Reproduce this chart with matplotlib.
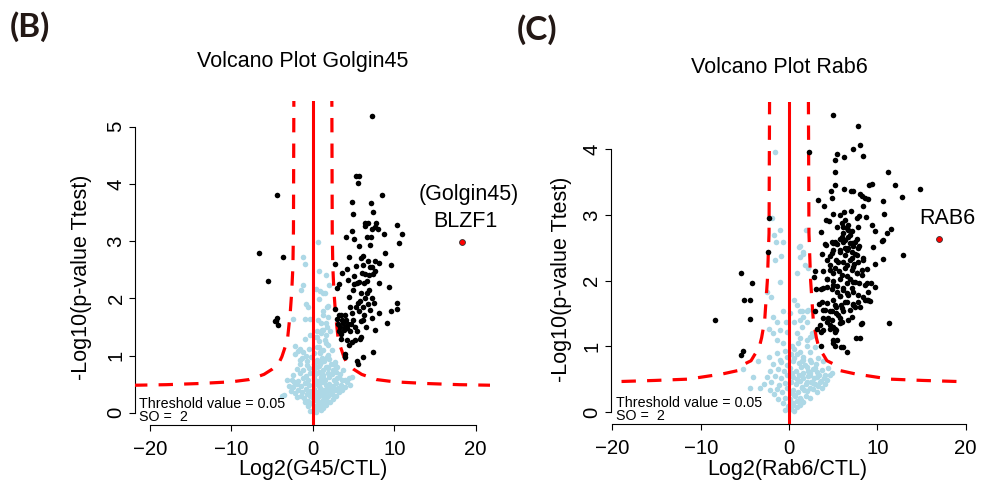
import matplotlib
matplotlib.use("Agg")
import matplotlib.pyplot as plt

plt.rcParams['font.family'] = ['Liberation Sans', 'DejaVu Sans']

W, H = 985, 488

# ---- Golgin45 panel -------------------------------------------------------
# significant proteins (black)
g45_sig = [
    (7.24, 5.18), (5.3, 4.14), (5.7, 4.14), (5.6, 4.02), (8.43, 3.81), (4.83, 3.68),
    (7.2, 3.66), (4.9, 3.48), (7.4, 3.51), (6.4, 3.32), (6.8, 3.32), (7.7, 3.32),
    (6.4, 3.27), (7.6, 3.24), (8.0, 3.21), (7.3, 3.21), (10.3, 3.29), (10.9, 3.13),
    (8.7, 3.12), (4.83, 3.18), (4.1, 3.07), (5.07, 3.04), (6.7, 3.07), (7.2, 3.08),
    (-4.38, 3.81), (-6.67, 2.79), (-3.68, 2.72), (-5.52, 2.31), (-4.4, 1.66),
    (-4.55, 1.61), (-4.25, 1.53), (-4.7, 1.6),
    (5.72, 2.91), (7.03, 2.93), (10.63, 2.96), (6.13, 2.74), (8.91, 2.79), (4.49, 2.73),
    (5.88, 2.70), (6.79, 2.65), (7.6, 2.65), (8.1, 2.62), (5.31, 2.56), (6.21, 2.58),
    (9.57, 2.58), (7.28, 2.54), (2.74, 2.6), (4.25, 2.51), (7.69, 2.47), (3.6, 2.45),
    (5.07, 2.39), (6.46, 2.42), (6.87, 2.41), (7.4, 2.42), (4.33, 2.32), (5.4, 2.27),
    (5.72, 2.29), (8.18, 2.27), (3.27, 2.25), (6.3, 2.27), (6.95, 2.15), (9.32, 2.19),
    (3.02, 2.18), (4.99, 2.14), (6.7, 2.1), (5.88, 2.09), (4.49, 2.02), (7.28, 2.0),
    (5.8, 1.96), (5.56, 1.91), (7.52, 1.91), (10.39, 1.91), (2.7, 1.82), (4.58, 1.85),
    (6.21, 1.85), (7.03, 1.8), (9.65, 1.77), (10.39, 1.82), (3.43, 1.71), (3.92, 1.71),
    (4.82, 1.74), (5.72, 1.77), (8.1, 1.74), (2.94, 1.64), (4.09, 1.62), (4.99, 1.62),
    (6.13, 1.62), (7.28, 1.65), (9.16, 1.57), (3.68, 1.57), (3.35, 1.49), (4.25, 1.48),
    (4.58, 1.42), (6.54, 1.49), (7.69, 1.45), (3.27, 1.42), (5.48, 1.43), (3.43, 1.28),
    (4.17, 1.27), (4.82, 1.24), (4.41, 1.18), (5.23, 1.27), (5.8, 1.29), (5.97, 1.33),
    (7.36, 1.06), (4.0, 1.03), (3.92, 0.97), (6.13, 0.97), (5.48, 0.91), (5.56, 0.85),
    (3.1, 1.55), (3.6, 1.62), (3.8, 1.45), (4.3, 1.55), (3.5, 1.38), (4.0, 1.5),
    (3.2, 1.7), (4.7, 1.55), (5.2, 1.5), (5.9, 1.6), (6.3, 1.7), (6.8, 1.9), (6.4, 2.0),
    (5.3, 1.85), (5.0, 2.25), (6.6, 2.3), (7.0, 2.55), (6.0, 2.45),
]

# non significant proteins (light blue)
g45_ns = [
    (0.65, 2.98), (-1.23, 2.72), (-0.98, 2.6), (1.63, 2.4), (0.74, 2.48), (1.96, 2.23),
    (-1.23, 2.23), (-1.47, 2.15), (1.3, 2.1), (0.33, 2.16), (0.74, 1.99), (-0.8, 1.9),
    (-0.65, 1.85), (1.8, 1.87), (1.24, 1.71), (-2.38, 1.64), (-0.98, 1.64), (-0.33, 1.63),
    (0.98, 1.57), (1.7, 1.5), (0.49, 1.43), (1.06, 1.4), (1.6, 1.36), (1.6, 1.22),
    (0.33, 1.33), (-2.2, 1.17), (-1.55, 1.11), (-1.15, 1.07), (0.49, 1.15), (-2.2, 1.03),
    (-0.9, 0.99), (0.9, 1.07), (-1.6, 0.93), (-0.74, 0.9), (1.7, 0.98), (-3.19, 0.57),
    (-2.29, 0.54), (-3.6, 0.31), (-3.84, 0.29),
    (0.9, 2.12), (1.51, 2.09), (1.71, 1.85), (1.3, 1.77), (1.92, 1.68), (0.69, 1.62),
    (1.63, 1.56), (1.1, 1.45), (2.12, 1.42), (0.49, 1.33), (1.51, 1.27), (2.33, 1.1),
    (0.9, 1.04), (1.92, 1.01), (2.74, 0.89), (3.76, 0.75), (3.15, 0.63), (3.96, 0.57),
    (4.78, 0.63), (1.71, 0.8), (0.49, 0.8),
    (-0.3, 0.03), (0.1, 0.06), (0.4, 0.02), (0.7, 0.08), (1.0, 0.05), (1.3, 0.09),
    (0.2, 0.12), (0.9, 0.13), (0.6, 0.16), (-0.6, 0.11), (1.6, 0.14),
    (-1.0, 0.18), (-0.6, 0.21), (-0.2, 0.17), (0.3, 0.22), (0.8, 0.19), (1.2, 0.23),
    (1.7, 0.2), (2.1, 0.18), (2.5, 0.24), (0.0, 0.26), (1.5, 0.28),
    (-2.0, 0.27), (-1.5, 0.3), (-1.1, 0.26), (-0.7, 0.32), (-0.3, 0.29), (0.2, 0.33),
    (0.6, 0.27), (1.0, 0.31), (1.4, 0.35), (1.8, 0.3), (2.3, 0.33), (2.8, 0.29), (3.2, 0.36),
    (-2.7, 0.38), (-2.2, 0.35), (-1.8, 0.4), (-1.3, 0.37), (-0.9, 0.42), (-0.4, 0.38),
    (0.1, 0.41), (0.5, 0.37), (0.9, 0.43), (1.3, 0.4), (1.8, 0.38), (2.2, 0.42),
    (2.7, 0.39), (3.1, 0.43), (3.6, 0.4), (4.0, 0.45),
    (-2.9, 0.47), (-2.4, 0.45), (-1.9, 0.5), (-1.4, 0.46), (-1.0, 0.52), (-0.5, 0.48),
    (0.3, 0.5), (0.7, 0.46), (1.1, 0.53), (1.6, 0.48), (2.0, 0.51), (2.5, 0.47),
    (2.9, 0.52), (3.4, 0.49), (4.2, 0.53), (4.6, 0.48),
    (-2.6, 0.58), (-1.8, 0.56), (-1.2, 0.6), (-0.6, 0.57), (0.2, 0.61), (0.6, 0.56),
    (1.0, 0.63), (1.5, 0.58), (2.0, 0.62), (2.6, 0.57), (3.0, 0.61), (3.6, 0.58), (4.4, 0.6),
    (-2.4, 0.66), (-1.6, 0.7), (-0.9, 0.65), (-0.3, 0.69), (0.3, 0.67), (0.8, 0.72),
    (1.3, 0.66), (1.8, 0.7), (2.4, 0.67), (2.9, 0.71), (3.3, 0.68),
    (-2.0, 0.77), (-1.2, 0.74), (-0.5, 0.79), (0.2, 0.76), (0.7, 0.81), (1.2, 0.75),
    (1.9, 0.78), (2.5, 0.74), (3.0, 0.8),
    (-1.6, 0.86), (-0.7, 0.84), (0.3, 0.88), (0.9, 0.85), (1.4, 0.9), (2.2, 0.86), (2.7, 0.83),
    (-1.3, 0.95), (-0.2, 0.97), (0.5, 0.93), (1.1, 0.96), (2.0, 0.94),
    (-1.8, 1.08), (-0.5, 1.12), (0.2, 1.05), (0.8, 1.15), (1.3, 1.1), (1.9, 1.18),
    (-1.0, 1.28), (-0.3, 1.35), (0.7, 1.25), (1.2, 1.45),
    (0.4, 0.09), (1.1, 0.15), (0.5, 0.2), (1.4, 0.26), (0.8, 0.36), (1.7, 0.44),
    (0.4, 0.55), (1.2, 0.6), (0.5, 0.7), (1.6, 0.8), (0.1, 0.85), (1.0, 0.88),
]

g45_hit = (18.36, 2.98)

# threshold curve (|log2 ratio|, -log10 p)
g45_curve_x = [2.33, 2.38, 2.45, 2.6, 2.78, 3.1, 3.4, 3.8, 4.2, 5.0, 6.0, 7.8, 10.0, 14.0, 18.0, 22.0, 24.0]
g45_curve_y = [5.6, 3.2, 2.55, 2.1, 1.74, 1.3, 1.15, 0.98, 0.86, 0.76, 0.67, 0.58, 0.54, 0.51, 0.49, 0.48, 0.47]

# ---- Rab6 panel -----------------------------------------------------------
rab6_sig = [
    (5.02, 4.52), (7.78, 4.36), (2.23, 3.95), (7.25, 4.0), (8.0, 4.06), (8.34, 3.9),
    (5.44, 3.92), (6.19, 3.88), (5.17, 3.83), (5.21, 3.65), (11.21, 3.65), (5.21, 3.46),
    (6.19, 3.4), (7.0, 3.37), (7.3, 3.37), (9.1, 3.46), (9.36, 3.47), (12.04, 3.45),
    (14.87, 3.39), (4.72, 3.36), (4.91, 3.26), (8.0, 3.32), (8.27, 3.29), (8.57, 3.26),
    (8.95, 3.24), (3.28, 3.23), (3.96, 3.14), (10.68, 3.21), (12.76, 3.27), (8.38, 3.14),
    (4.94, 3.02), (5.77, 3.0), (6.27, 3.05), (7.02, 3.06), (10.8, 3.02), (4.22, 2.92),
    (4.53, 2.9), (7.97, 2.98), (8.76, 2.97), (3.66, 2.74), (9.4, 2.85), (9.78, 2.75),
    (11.5, 2.78), (11.1, 2.72), (10.7, 2.62), (9.47, 2.51), (4.15, 2.54),
    (12.87, 2.39), (11.32, 1.35), (9.77, 2.25), (10.6, 2.33), (9.74, 1.9), (8.8, 1.97),
    (8.8, 1.7), (8.19, 1.34), (7.55, 1.13), (8.04, 1.13), (6.53, 0.92), (5.85, 0.99),
    (5.0, 1.1), (9.17, 1.69),
    (-5.43, 2.11), (-4.19, 1.96), (-5.1, 1.71), (-4.4, 1.71), (-4.45, 1.42), (-8.34, 1.4),
    (-5.47, 0.86), (-5.17, 0.93), (-2.26, 2.96), (-2.42, 2.44),
    (6.34, 2.92), (5.96, 2.87), (6.72, 2.85), (5.4, 2.82), (6.53, 2.8), (7.1, 2.75),
    (6.15, 2.72), (6.72, 2.67), (5.78, 2.64), (5.02, 2.57), (6.91, 2.57), (7.47, 2.59),
    (7.85, 2.82), (7.66, 2.95), (5.21, 2.57), (6.34, 2.49),
    (4.08, 2.55), (4.83, 2.58), (5.40, 2.56), (6.15, 2.59), (7.29, 2.53), (7.97, 2.53),
    (5.02, 2.47), (5.78, 2.44), (6.53, 2.47), (7.1, 2.43), (7.66, 2.39), (8.42, 2.31),
    (10.5, 2.6), (3.74, 2.41), (4.64, 2.37), (5.32, 2.32), (6.15, 2.29), (6.91, 2.31),
    (7.4, 2.26), (3.89, 2.14), (4.64, 2.16), (5.02, 2.11), (5.7, 2.15), (6.34, 2.19),
    (7.1, 2.16), (7.66, 2.11), (8.23, 2.09), (8.8, 2.17), (2.95, 2.14), (2.83, 2.06),
    (4.27, 2.03), (4.95, 2.0), (5.78, 2.02), (6.53, 2.07), (7.29, 1.98), (7.97, 1.96),
    (8.61, 1.93), (9.25, 1.96), (3.06, 1.87), (3.59, 1.87), (4.27, 1.91), (4.87, 1.87),
    (5.47, 1.92), (6.08, 1.86), (6.61, 1.81), (7.29, 1.83), (7.85, 1.78), (8.34, 1.75),
    (8.98, 1.7), (5.78, 1.76), (5.02, 1.70), (4.27, 1.66), (3.36, 1.65), (6.53, 1.68),
    (7.29, 1.64), (8.04, 1.6), (5.93, 1.63), (5.32, 1.6), (2.95, 1.53), (3.89, 1.55),
    (4.64, 1.53), (5.32, 1.51), (6.08, 1.54), (6.91, 1.55), (7.47, 1.6), (7.1, 1.45),
    (5.78, 1.43), (4.83, 1.4), (3.89, 1.43), (5.02, 1.3), (3.51, 1.32), (4.27, 1.37),
    (5.96, 1.37), (8.23, 1.35), (3.13, 1.27), (3.89, 1.25), (4.64, 1.27), (5.21, 1.22),
    (3.66, 1.22), (5.32, 1.25), (5.4, 1.1), (5.17, 1.01), (3.62, 1.0), (6.08, 0.99),
    (5.02, 1.05),
    (5.21, 1.63), (4.83, 1.53), (5.59, 1.48), (4.45, 1.43), (5.96, 1.58), (6.34, 1.68),
    (5.78, 1.76), (6.72, 1.78), (5.40, 1.83), (6.15, 1.88), (7.1, 1.88), (6.53, 1.96),
    (5.02, 1.93), (7.47, 1.98), (6.91, 2.03), (5.96, 2.09), (7.66, 2.11), (8.23, 2.16),
    (7.29, 2.21), (6.53, 2.24), (7.85, 2.29), (7.1, 2.34), (8.42, 2.34), (6.34, 2.39),
    (7.47, 2.41), (6.72, 2.49), (5.78, 2.47), (7.85, 2.49), (7.1, 2.57), (6.34, 2.62),
    (5.96, 2.67), (6.91, 2.69), (7.66, 2.64), (6.72, 2.77), (6.15, 2.82), (5.21, 2.59),
    (4.83, 2.42), (4.64, 2.24), (4.27, 2.03), (3.89, 1.88), (3.7, 1.68), (4.08, 1.55),
    (4.64, 1.32), (5.21, 1.27), (5.78, 1.35), (6.72, 1.40), (7.29, 1.63), (7.85, 1.68),
    (8.61, 1.71), (8.98, 1.83), (4.27, 2.31), (5.21, 2.19), (5.59, 2.29),
]

rab6_ns = [
    (-1.55, 3.95), (-1.92, 2.96), (-1.03, 2.77), (-1.7, 2.69), (-1.47, 2.59), (-0.64, 2.59),
    (-0.87, 2.37), (-1.55, 2.31), (1.1, 2.51), (1.55, 2.44), (1.24, 2.36), (1.93, 2.77),
    (0.87, 2.11), (-1.03, 1.98), (-2.01, 1.75), (0.53, 1.7), (0.87, 1.63), (-0.68, 1.53),
    (0.15, 1.5), (1.25, 1.53), (2.19, 1.55), (-1.77, 1.45), (-1.32, 1.37), (-0.34, 1.37),
    (0.57, 1.37), (1.44, 1.3), (2.0, 1.37), (-1.03, 1.25), (-0.2, 1.22), (0.87, 1.2),
    (1.25, 1.13), (-1.85, 1.2), (-1.32, 1.1), (-0.64, 1.05), (0.3, 1.0), (1.06, 1.05),
    (2.08, 1.0), (-2.23, 0.84), (-1.03, 0.79), (-0.2, 0.84), (0.87, 0.89), (1.63, 0.79),
    (-3.47, 0.77), (-5.17, 0.66), (-4.04, 0.53), (-4.42, 0.36), (-3.28, 0.36),
    (-2.53, 1.82), (2.6, 1.2), (2.4, 1.14), (-2.3, 1.27),
    (1.25, 2.52), (1.62, 2.41), (1.81, 2.24), (2.19, 2.19), (1.43, 1.53), (2.0, 1.53),
    (1.62, 1.45), (1.25, 1.4), (2.57, 1.15), (2.0, 1.1), (2.95, 0.99), (2.38, 0.92),
    (1.62, 0.84), (2.38, 0.79), (3.32, 0.82), (3.89, 0.77), (2.0, 0.69), (2.95, 0.67),
    (3.7, 0.64), (4.45, 0.67), (1.62, 0.59), (2.38, 0.56), (3.13, 0.54), (4.08, 0.56),
    (4.83, 0.59), (2.0, 0.46), (2.76, 0.44), (3.51, 0.46), (4.27, 0.49), (1.43, 0.38),
    (2.38, 0.36), (3.32, 0.39),
    (-0.4, 0.03), (0.2, 0.05), (0.6, 0.02), (0.9, 0.07), (-0.1, 0.09), (1.2, 0.1),
    (0.4, 0.13), (-0.7, 0.14), (1.6, 0.15), (0.9, 0.17),
    (-1.2, 0.2), (-0.5, 0.22), (0.1, 0.19), (0.7, 0.24), (1.3, 0.21), (1.9, 0.25),
    (2.4, 0.22), (-1.7, 0.27), (0.3, 0.29), (1.0, 0.3),
    (-2.2, 0.33), (-1.4, 0.35), (-0.8, 0.31), (-0.2, 0.36), (0.5, 0.34), (1.5, 0.37),
    (2.0, 0.32), (2.7, 0.35), (3.2, 0.31), (3.7, 0.36),
    (-2.8, 0.42), (-2.0, 0.45), (-1.1, 0.41), (-0.5, 0.44), (0.2, 0.46), (0.8, 0.42),
    (1.3, 0.47), (1.9, 0.43), (2.5, 0.46), (3.0, 0.42), (3.6, 0.47), (4.1, 0.43),
    (-2.5, 0.53), (-1.6, 0.55), (-0.9, 0.51), (-0.2, 0.56), (0.5, 0.53), (1.1, 0.57),
    (1.6, 0.52), (2.2, 0.55), (2.8, 0.51), (3.4, 0.56), (4.0, 0.52), (4.6, 0.57),
    (-2.1, 0.63), (-1.3, 0.66), (-0.6, 0.62), (0.1, 0.67), (0.8, 0.63), (1.4, 0.68),
    (2.1, 0.62), (2.7, 0.66), (3.2, 0.61),
    (-1.8, 0.73), (-0.9, 0.76), (-0.2, 0.72), (0.4, 0.77), (1.1, 0.74), (1.8, 0.71),
    (2.5, 0.76), (3.1, 0.73),
    (-1.4, 0.9), (-0.5, 0.93), (0.2, 0.88), (0.6, 0.96), (1.3, 0.92),
    (0.5, 0.1), (1.4, 0.18), (0.6, 0.26), (1.7, 0.33), (0.9, 0.5), (2.4, 0.6),
    (0.3, 0.6), (1.5, 0.78), (0.6, 0.82),
]

rab6_hit = (16.95, 2.64)

rab6_curve_x = [2.2, 2.26, 2.45, 2.75, 3.1, 3.4, 3.9, 4.3, 5.2, 5.8, 7.5, 11.4, 15.2, 20.0]
rab6_curve_y = [4.75, 2.72, 2.0, 1.4, 1.13, 0.97, 0.87, 0.78, 0.72, 0.63, 0.58, 0.5, 0.48, 0.46]

BLUE = '#ADD8E6'
RED = '#FF0000'
DOT = 16


def px_rect(left, top, right, bottom):
    return [left / W, 1 - bottom / H, (right - left) / W, (bottom - top) / H]


def ftext(px, py, s, **kw):
    fig.text(px / W, 1 - py / H, s, **kw)


def panel(rect, xlim, ylim, ymax_tick, ns, sig, hit, cx, cy):
    ax = fig.add_axes(rect)
    ax.set_xlim(*xlim)
    ax.set_ylim(*ylim)
    ax.scatter([p[0] for p in ns], [p[1] for p in ns], s=DOT, c=BLUE, linewidths=0, zorder=2)
    ax.axvline(0, color=RED, lw=2.2, zorder=3)
    for sign in (1, -1):
        ax.plot([sign * v for v in cx], cy, color=RED, lw=2.3,
                linestyle=(0, (4.5, 3.5)), zorder=3)
    ax.scatter([p[0] for p in sig], [p[1] for p in sig], s=DOT, c='black', linewidths=0, zorder=4)
    ax.scatter([hit[0]], [hit[1]], s=18, c=RED, edgecolors='#333333', linewidths=0.6,
               zorder=5, clip_on=False)
    for side in ('top', 'right'):
        ax.spines[side].set_visible(False)
    ax.spines['left'].set_bounds(0, ymax_tick)
    ax.spines['bottom'].set_bounds(-20, 20)
    ax.set_xticks([-20, -10, 0, 10, 20])
    ax.set_xticklabels(['\u221220', '\u221210', '0', '10', '20'])
    ax.set_yticks(range(0, ymax_tick + 1))
    ax.tick_params(labelsize=14.7, length=4, width=0.8)
    ax.tick_params(axis='x', pad=7)
    ax.tick_params(axis='y', pad=3)
    for lab in ax.get_yticklabels():
        lab.set_rotation(90)
        lab.set_va('center')
    return ax


fig = plt.figure(figsize=(W / 100, H / 100), dpi=100)

# left panel: x -21.8..21.8, y -0.215..5.45
ax1 = panel(px_rect(135.3, 101.0, 490.4, 425.0), (-21.8, 21.8), (-0.215, 5.45), 5,
            g45_ns, g45_sig, g45_hit, g45_curve_x, g45_curve_y)
ax1.text(19.2, 3.81, '(Golgin45)', fontsize=15.5, ha='center', va='center')
ax1.text(18.7, 3.35, 'BLZF1', fontsize=15.5, ha='center', va='center')

# right panel: x -20.16..21, y -0.183..4.72
ax2 = panel(px_rect(611.0, 101.9, 974.4, 424.0), (-20.16, 21.0), (-0.183, 4.72), 4,
            rab6_ns, rab6_sig, rab6_hit, rab6_curve_x, rab6_curve_y)
ax2.text(17.9, 2.94, 'RAB6', fontsize=15.5, ha='center', va='center')

panel_font = ['Lato', 'DejaVu Sans']
ftext(10, 27, '(B)', fontsize=24, fontweight='bold', family=panel_font,
      ha='left', va='center', color='#231815')
ftext(517, 30, '(C)', fontsize=24, fontweight='bold', family=panel_font,
      ha='left', va='center', color='#231815')

ftext(303, 62, 'Volcano Plot Golgin45', fontsize=15.5, ha='center', va='center')
ftext(779, 67, 'Volcano Plot Rab6', fontsize=15.5, ha='center', va='center')

ftext(313, 470, 'Log2(G45/CTL)', fontsize=15.5, ha='center', va='center')
ftext(787, 469, 'Log2(Rab6/CTL)', fontsize=15.5, ha='center', va='center')
ftext(82, 277, '-Log10(p-value Ttest)', fontsize=15.5, ha='center', va='center', rotation=90)
ftext(562, 279, '-Log10(p-value Ttest)', fontsize=15.5, ha='center', va='center', rotation=90)

ftext(139, 404, 'Threshold value = 0.05', fontsize=10.3, ha='left', va='center')
ftext(139, 417, 'SO =  2', fontsize=10.3, ha='left', va='center')
ftext(616, 403, 'Threshold value = 0.05', fontsize=10.3, ha='left', va='center')
ftext(616, 416, 'SO =  2', fontsize=10.3, ha='left', va='center')

fig.savefig('out.png', dpi=100)
